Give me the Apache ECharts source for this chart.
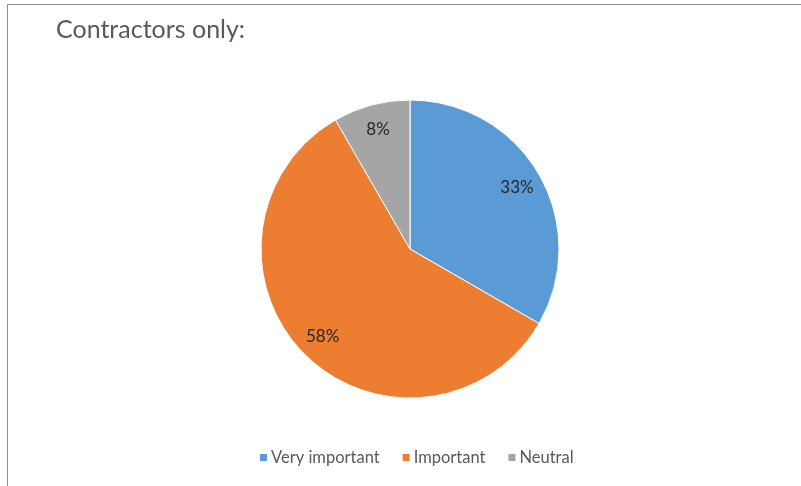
<!DOCTYPE html>
<html lang="en">
<head>
    <meta charset="UTF-8">
    <title>Contractors only</title>
    <script src="https://cdn.jsdelivr.net/npm/echarts@6/dist/echarts.min.js"></script>
    <style>
        html, body { margin: 0; padding: 0; background: #fff; }
    </style>
</head>
<body>
    <div id="main" style="width: 801px;height:486px;"></div>
</body>
<script type="text/javascript">
    // data
    var categories = ['Very important', 'Important', 'Neutral'];
    var counts = [4, 7, 1];
    var colors = ['#5B9BD5', '#ED7D31', '#A5A5A5'];

    var pieData = categories.map(function (name, i) {
        return { name: name, value: counts[i], itemStyle: { color: colors[i] } };
    });

    var myChart = echarts.init(document.getElementById('main'));
    var font = 'Lato, "Open Sans", sans-serif';

    option = {
        animation: false,
        backgroundColor: '#fff',
        title: {
            text: 'Contractors only:',
            left: 51,
            top: 12,
            textStyle: { fontFamily: font, fontSize: 25, fontWeight: 'normal', color: '#595959' }
        },
        legend: {
            bottom: 15,
            left: 253,
            itemWidth: 9,
            itemHeight: 9,
            itemGap: 21,
            icon: 'rect',
            data: categories,
            textStyle: { fontFamily: font, fontSize: 16.5, color: '#595959', padding: [0, 0, 0, -2] }
        },
        graphic: [
            { type: 'line', shape: { x1: 7.5, y1: 4.5, x2: 801, y2: 4.5 }, style: { stroke: '#8c8c8c', lineWidth: 1 } },
            { type: 'line', shape: { x1: 7.5, y1: 4.5, x2: 7.5, y2: 486 }, style: { stroke: '#8c8c8c', lineWidth: 1 } }
        ],
        series: [
            {
                type: 'pie',
                center: [410, 249],
                radius: [0, 149],
                startAngle: 90,
                clockwise: true,
                data: pieData,
                label: { show: false },
                labelLine: { show: false },
                itemStyle: { borderColor: '#fff', borderWidth: 1 },
                silent: true
            },
            {
                // transparent ring used only to place the percentage labels
                type: 'pie',
                center: [410, 249],
                radius: [92, 149],
                startAngle: 90,
                clockwise: true,
                data: pieData.map(function (d) {
                    return { name: d.name, value: d.value, itemStyle: { color: 'transparent' } };
                }),
                label: {
                    show: true,
                    position: 'inside',
                    formatter: function (p) { return Math.round(p.percent) + '%'; },
                    fontFamily: font,
                    fontSize: 17,
                    color: '#262626'
                },
                labelLine: { show: false },
                silent: true,
                legendHoverLink: false
            }
        ]
    };
    myChart.setOption(option);
</script>
</html>
